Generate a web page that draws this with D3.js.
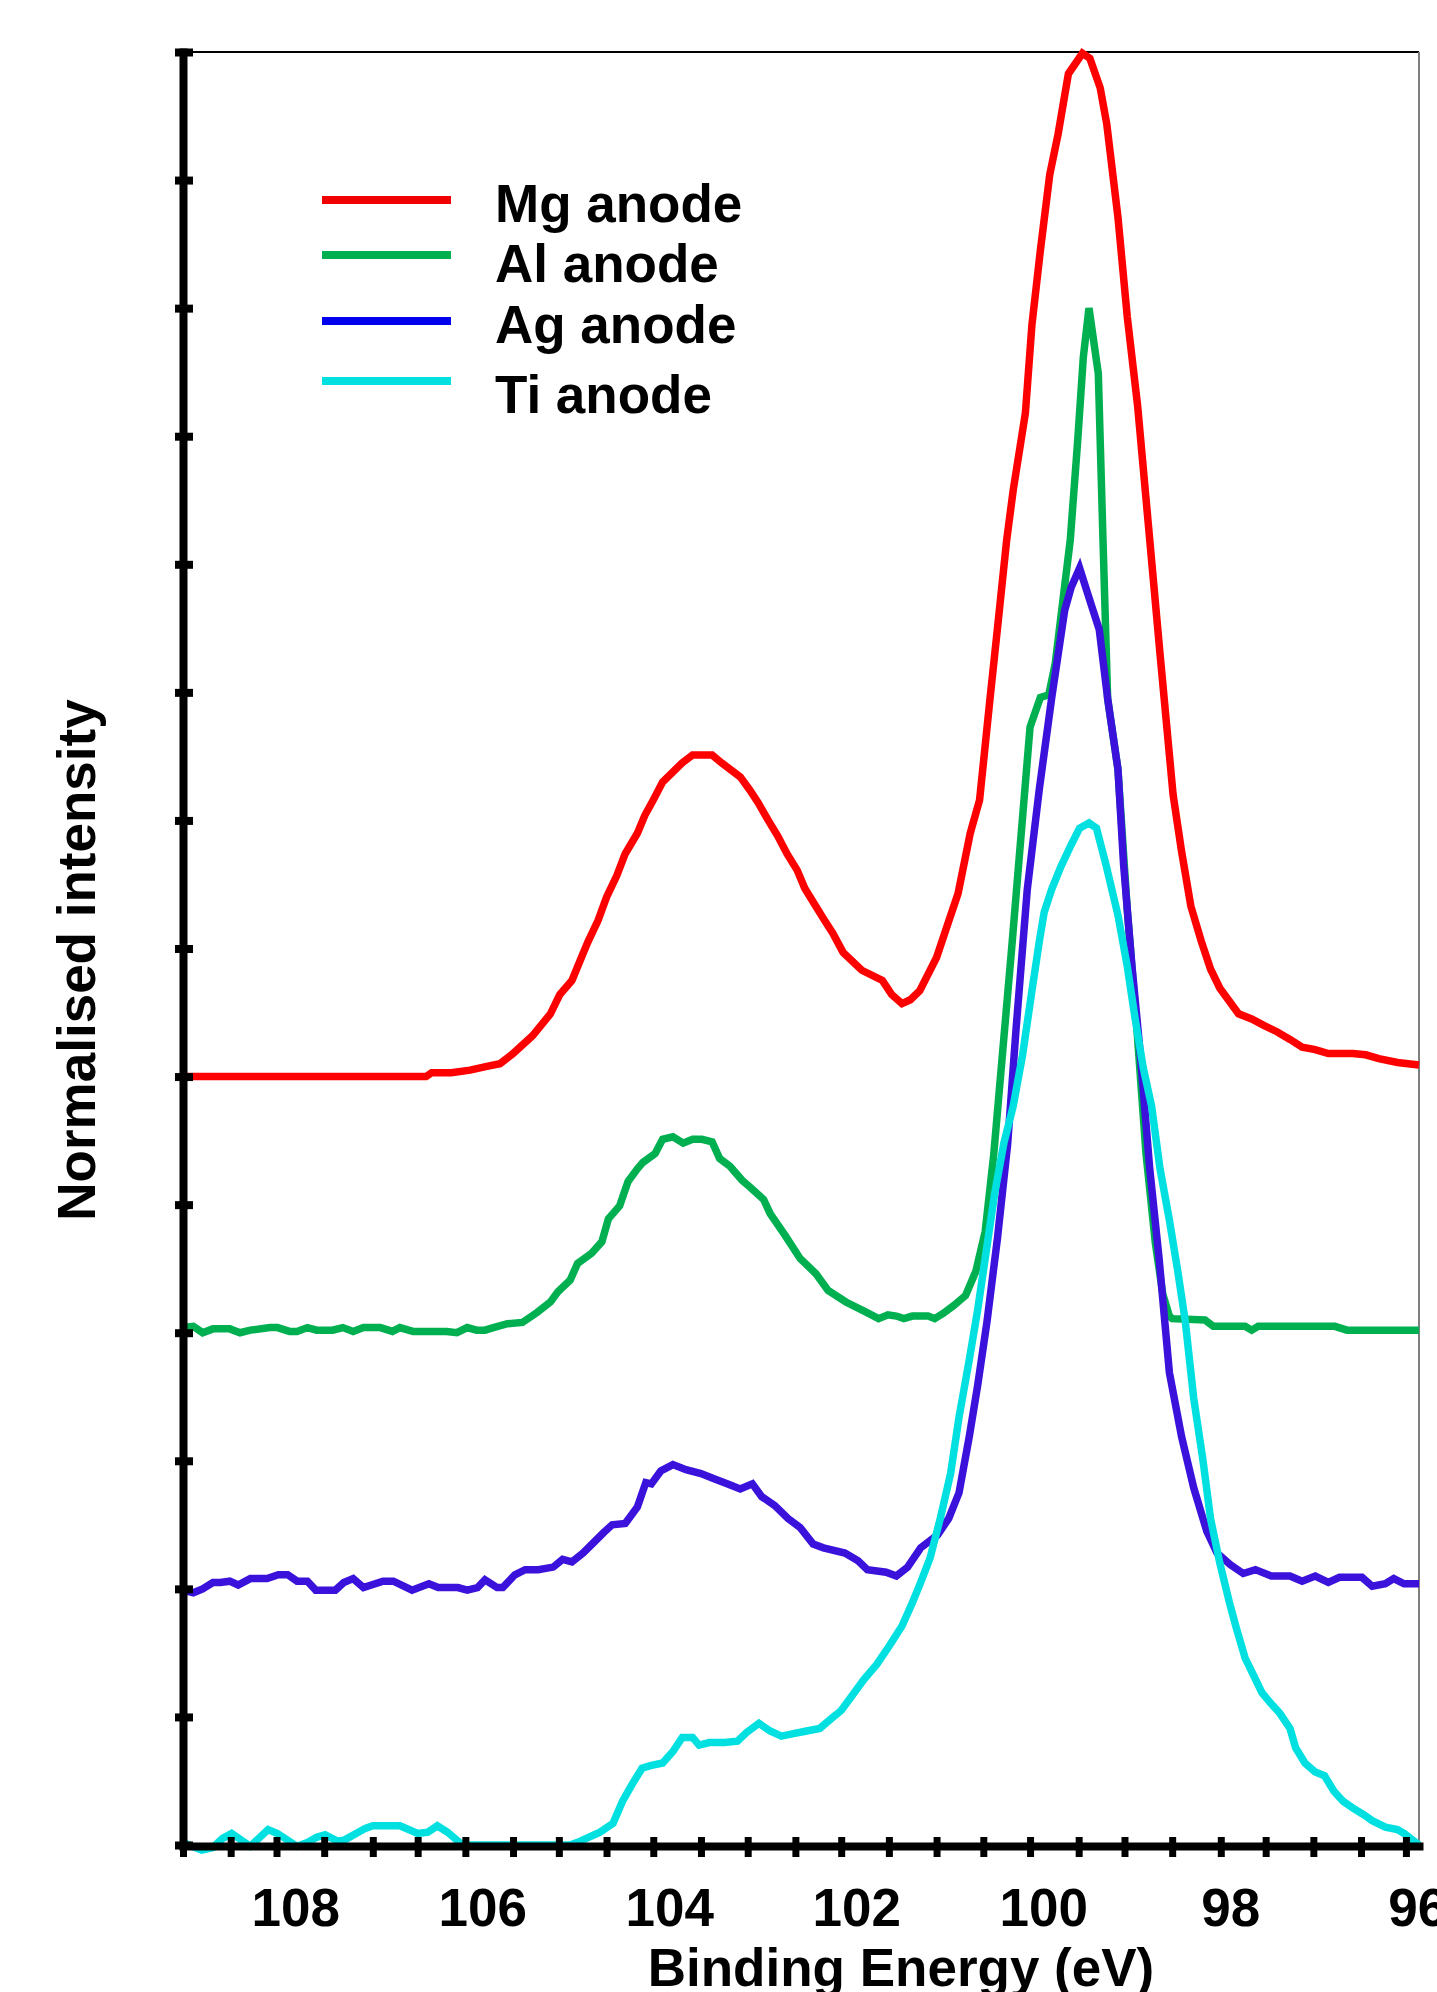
<!DOCTYPE html>
<html>
<head>
<meta charset="utf-8">
<script src="https://cdn.jsdelivr.net/npm/d3@7"></script>
<style>
body { margin: 0; background: #fff; }
text { font-family: "Liberation Sans", Arial, sans-serif; font-weight: bold; }
</style>
</head>
<body>
<div id="chart"></div>
<script>
// Binding energy (eV), normalised intensity with vertical offsets as plotted
var mgAnode = [[109.2,6.0],[106.6,6.0],[106.54,6.03],[106.33,6.03],[106.13,6.05],[105.95,6.08],[105.81,6.10],[105.67,6.18],[105.46,6.32],[105.27,6.49],[105.17,6.64],[105.04,6.75],[104.95,6.91],[104.87,7.05],[104.76,7.22],[104.67,7.40],[104.56,7.57],[104.47,7.74],[104.34,7.90],[104.26,8.04],[104.17,8.16],[104.07,8.30],[103.86,8.45],[103.75,8.51],[103.54,8.51],[103.44,8.45],[103.24,8.34],[103.14,8.24],[103.05,8.14],[102.94,8.00],[102.84,7.88],[102.74,7.74],[102.63,7.61],[102.55,7.47],[102.44,7.34],[102.33,7.21],[102.25,7.12],[102.14,6.97],[101.94,6.83],[101.72,6.75],[101.62,6.64],[101.51,6.57],[101.42,6.60],[101.32,6.67],[101.14,6.93],[101.03,7.17],[100.91,7.43],[100.78,7.90],[100.68,8.16],[100.57,8.94],[100.48,9.56],[100.39,10.19],[100.32,10.58],[100.19,11.18],[100.12,11.87],[100.03,12.45],[99.93,13.04],[99.84,13.36],[99.73,13.83],[99.58,13.99],[99.50,13.95],[99.39,13.72],[99.32,13.44],[99.20,12.71],[99.10,11.93],[98.99,11.24],[98.86,10.19],[98.75,9.3],[98.61,8.20],[98.52,7.76],[98.42,7.33],[98.31,7.06],[98.21,6.84],[98.11,6.69],[98.01,6.59],[97.91,6.49],[97.77,6.45],[97.64,6.40],[97.50,6.35],[97.36,6.29],[97.23,6.23],[97.09,6.21],[96.95,6.18],[96.69,6.18],[96.55,6.17],[96.41,6.14],[96.21,6.11],[95.98,6.09]];

var alAnode = [[109.2,4.04],[109.09,4.05],[108.99,4.00],[108.88,4.03],[108.70,4.03],[108.59,4.00],[108.48,4.02],[108.27,4.04],[108.19,4.04],[108.06,4.01],[107.98,4.01],[107.87,4.04],[107.77,4.02],[107.60,4.02],[107.49,4.04],[107.38,4.01],[107.27,4.04],[107.09,4.04],[106.96,4.01],[106.88,4.04],[106.74,4.01],[106.38,4.01],[106.27,4.00],[106.16,4.04],[106.06,4.02],[105.97,4.02],[105.88,4.04],[105.73,4.07],[105.57,4.08],[105.41,4.16],[105.27,4.24],[105.19,4.32],[105.06,4.41],[104.98,4.54],[104.83,4.62],[104.72,4.71],[104.65,4.89],[104.53,4.99],[104.44,5.18],[104.34,5.28],[104.28,5.33],[104.15,5.40],[104.07,5.51],[103.96,5.53],[103.85,5.48],[103.75,5.51],[103.65,5.51],[103.54,5.49],[103.46,5.36],[103.35,5.30],[103.22,5.19],[103.14,5.14],[102.99,5.04],[102.92,4.93],[102.76,4.76],[102.60,4.58],[102.43,4.46],[102.30,4.33],[102.11,4.24],[101.92,4.17],[101.76,4.11],[101.66,4.14],[101.57,4.13],[101.49,4.11],[101.40,4.13],[101.23,4.13],[101.16,4.11],[101.07,4.15],[100.96,4.21],[100.83,4.29],[100.72,4.48],[100.62,4.79],[100.53,5.38],[100.33,7.06],[100.14,8.73],[100.03,8.96],[99.94,8.98],[99.87,9.23],[99.71,10.19],[99.63,10.97],[99.57,11.62],[99.51,12.00],[99.41,11.49],[99.36,10.19],[99.31,8.95],[99.20,8.40],[99.10,7.30],[99.00,6.40],[98.90,5.40],[98.80,4.70],[98.72,4.30],[98.65,4.13],[98.62,4.11],[98.27,4.10],[98.18,4.05],[97.84,4.05],[97.77,4.02],[97.70,4.05],[96.88,4.05],[96.75,4.02],[95.98,4.02]];

var agAnode = [[109.2,1.99],[109.09,1.97],[108.99,2.00],[108.88,2.05],[108.80,2.05],[108.70,2.06],[108.61,2.03],[108.48,2.08],[108.30,2.08],[108.18,2.11],[108.08,2.11],[107.98,2.06],[107.87,2.06],[107.78,1.99],[107.57,1.99],[107.48,2.05],[107.38,2.08],[107.27,2.01],[107.06,2.06],[106.95,2.06],[106.75,1.99],[106.57,2.04],[106.47,2.01],[106.26,2.01],[106.16,1.99],[106.05,2.01],[105.97,2.07],[105.84,2.01],[105.78,2.01],[105.65,2.11],[105.54,2.15],[105.40,2.15],[105.24,2.17],[105.14,2.23],[105.04,2.21],[104.92,2.28],[104.81,2.36],[104.70,2.44],[104.61,2.50],[104.47,2.51],[104.34,2.64],[104.25,2.83],[104.19,2.82],[104.09,2.92],[103.96,2.97],[103.82,2.93],[103.66,2.90],[103.52,2.86],[103.38,2.82],[103.24,2.78],[103.11,2.82],[103.01,2.72],[102.87,2.65],[102.73,2.55],[102.60,2.48],[102.46,2.35],[102.35,2.32],[102.12,2.28],[101.98,2.22],[101.88,2.15],[101.68,2.13],[101.57,2.10],[101.45,2.17],[101.31,2.32],[101.13,2.42],[101.01,2.55],[100.90,2.75],[100.79,3.19],[100.70,3.59],[100.60,4.09],[100.49,4.73],[100.38,5.47],[100.29,6.37],[100.17,7.46],[100.04,8.25],[99.91,8.95],[99.77,9.64],[99.70,9.82],[99.61,9.97],[99.51,9.74],[99.40,9.49],[99.31,8.95],[99.20,8.40],[99.14,7.66],[99.05,6.86],[98.96,6.17],[98.86,5.28],[98.76,4.58],[98.65,3.69],[98.52,3.19],[98.39,2.79],[98.25,2.45],[98.14,2.28],[98.00,2.19],[97.86,2.12],[97.73,2.15],[97.56,2.10],[97.36,2.10],[97.23,2.06],[97.09,2.10],[96.95,2.05],[96.83,2.09],[96.59,2.09],[96.48,2.02],[96.34,2.04],[96.25,2.08],[96.14,2.04],[95.98,2.04]];

var tiAnode = [[109.2,0.02],[109.00,-0.04],[108.88,-0.02],[108.78,0.05],[108.68,0.09],[108.48,-0.01],[108.29,0.12],[108.19,0.09],[107.98,-0.01],[107.87,0.02],[107.77,0.06],[107.68,0.08],[107.55,0.03],[107.47,0.04],[107.25,0.13],[107.17,0.15],[106.88,0.15],[106.69,0.09],[106.58,0.10],[106.48,0.15],[106.37,0.10],[106.21,0.0],[106.13,0.0],[105.06,0.0],[104.95,0.03],[104.74,0.10],[104.60,0.17],[104.50,0.34],[104.40,0.47],[104.29,0.60],[104.20,0.62],[104.07,0.64],[103.96,0.73],[103.86,0.84],[103.75,0.84],[103.68,0.78],[103.57,0.80],[103.41,0.80],[103.27,0.81],[103.17,0.88],[103.04,0.95],[102.92,0.89],[102.80,0.85],[102.67,0.87],[102.53,0.89],[102.39,0.91],[102.26,0.99],[102.16,1.05],[102.06,1.15],[101.92,1.29],[101.78,1.41],[101.65,1.55],[101.51,1.71],[101.40,1.89],[101.31,2.05],[101.21,2.24],[101.10,2.55],[100.99,2.90],[100.90,3.34],[100.79,3.79],[100.70,4.18],[100.60,4.68],[100.52,5.08],[100.42,5.48],[100.32,5.77],[100.22,6.17],[100.12,6.67],[100.04,7.06],[99.99,7.28],[99.91,7.46],[99.81,7.64],[99.70,7.81],[99.61,7.94],[99.51,7.98],[99.43,7.94],[99.33,7.66],[99.20,7.26],[99.10,6.86],[99.02,6.47],[98.93,6.07],[98.84,5.77],[98.75,5.28],[98.65,4.88],[98.56,4.48],[98.48,4.09],[98.39,3.49],[98.29,3.00],[98.21,2.55],[98.11,2.20],[98.01,1.90],[97.94,1.71],[97.84,1.46],[97.74,1.31],[97.66,1.19],[97.57,1.11],[97.47,1.03],[97.36,0.91],[97.30,0.76],[97.20,0.64],[97.09,0.57],[96.99,0.54],[96.89,0.42],[96.79,0.34],[96.69,0.29],[96.58,0.24],[96.48,0.19],[96.34,0.14],[96.21,0.12],[96.14,0.09],[95.98,0.0]];

var seriesNames = ["Mg anode", "Al anode", "Ag anode", "Ti anode"];
var lineColors = ["#ff0000", "#00b050", "#3a12dc", "#00e0e0"];
var legendColors = ["#f00000", "#00b050", "#0000ee", "#00e0e0"];

var xLabelTicks = [108, 106, 104, 102, 100, 98, 96];
var xMinorTicks = [109.2,108.69,108.2,107.69,107.17,106.69,106.18,105.67,105.18,104.67,104.17,103.66,103.16,102.65,102.16,101.65,101.14,100.64,100.14,99.62,99.13,98.62,98.1,97.62,97.11,96.6,96.12];
var yTicks = d3.range(0, 15);

var w = 1437;
var h = 1992;

var svg = d3.select("#chart").append("svg").attr("width", w).attr("height", h);

var x = d3.scaleLinear().domain([109.2, 95.98]).range([183, 1419]);
var y = d3.scaleLinear().domain([0, 14]).range([1845, 52]);

// frame (top and right)
svg.append("line").attr("x1", 183).attr("x2", 1419).attr("y1", 52).attr("y2", 52)
    .attr("stroke", "#000").attr("stroke-width", 2);
svg.append("line").attr("x1", 1419).attr("x2", 1419).attr("y1", 52).attr("y2", 1846)
    .attr("stroke", "#808080").attr("stroke-width", 2);

// data lines
var line = d3.line()
    .x(function(d){ return x(d[0]); })
    .y(function(d){ return y(d[1]); });

var allSeries = [mgAnode, alAnode, agAnode, tiAnode];

svg.selectAll("path.series").data(allSeries).enter().append("path")
    .attr("class", "series")
    .attr("d", line)
    .attr("fill", "none")
    .attr("stroke", function(d, i){ return lineColors[i]; })
    .attr("stroke-width", 7.5);

// y axis
var yAxis = svg.append("g").attr("transform", "translate(183,0)")
    .call(d3.axisLeft(y).tickValues(yTicks).tickSizeOuter(0).tickFormat(""));
yAxis.select(".domain").attr("stroke-width", 8).attr("stroke-linecap", "square");
yAxis.selectAll(".tick line").attr("x1", 10).attr("x2", -8).attr("stroke-width", 8);

// x axis: minor ticks
var xAxis = svg.append("g").attr("transform", "translate(0,1846)")
    .call(d3.axisBottom(x).tickValues(xMinorTicks).tickSizeOuter(0).tickFormat(""));
xAxis.select(".domain").attr("stroke-width", 8).attr("stroke-linecap", "square");
xAxis.selectAll(".tick line").attr("y1", -9).attr("y2", 11).attr("stroke-width", 7);

// x axis: labels
var xLab = svg.append("g").attr("transform", "translate(0,1846)")
    .call(d3.axisBottom(x).tickValues(xLabelTicks).tickSize(0).tickFormat(d3.format("d")));
xLab.select(".domain").remove();
xLab.selectAll(".tick text")
    .attr("y", 80).attr("dy", 0)
    .attr("font-size", "53px")
    .attr("font-family", "'Liberation Sans', Arial, sans-serif")
    .attr("font-weight", "bold")
    .attr("fill", "#000");

// axis titles
svg.append("text").text("Binding Energy (eV)")
    .attr("x", 901).attr("y", 1986)
    .attr("text-anchor", "middle")
    .attr("font-size", "53px");

svg.append("text").text("Normalised intensity")
    .attr("transform", "translate(95,960) rotate(-90)")
    .attr("text-anchor", "middle")
    .attr("font-size", "53px");

// legend
var legendLineY = [200, 255, 321, 381];
var legendTextY = [222, 282, 343, 413];

svg.selectAll("line.legend").data(seriesNames).enter().append("line")
    .attr("class", "legend")
    .attr("x1", 322).attr("x2", 451)
    .attr("y1", function(d, i){ return legendLineY[i]; })
    .attr("y2", function(d, i){ return legendLineY[i]; })
    .attr("stroke", function(d, i){ return legendColors[i]; })
    .attr("stroke-width", 8);

svg.selectAll("text.legend").data(seriesNames).enter().append("text")
    .attr("class", "legend")
    .text(function(d){ return d; })
    .attr("x", 495)
    .attr("y", function(d, i){ return legendTextY[i]; })
    .attr("font-size", "53px");
</script>
</body>
</html>
